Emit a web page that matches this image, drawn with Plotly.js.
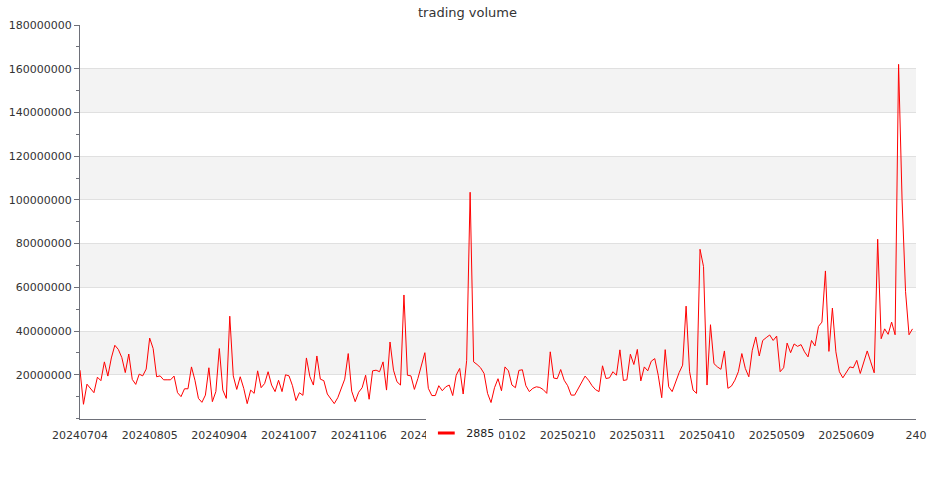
<!DOCTYPE html>
<html>
<head>
<meta charset="utf-8">
<script src="https://cdn.plot.ly/plotly-3.0.1.min.js"></script>
<style>
html,body{margin:0;padding:0;background:#fff;}
#chart{width:935px;height:500px;}
</style>
</head>
<body>
<div id="chart"></div>
<script>
// Trading volume of 2885, one value per trading day
const volumes = [
22.1e6, 6.5e6, 15.7e6, 13.5e6, 11.8e6, 18.9e6, 17.3e6, 25.9e6, 19.4e6, 27.7e6,
33.5e6, 31.6e6, 27.9e6, 21.0e6, 29.5e6, 17.9e6, 15.6e6, 20.3e6, 19.5e6, 22.6e6,
36.8e6, 32.0e6, 19.1e6, 19.5e6, 17.7e6, 17.7e6, 17.7e6, 19.4e6, 11.8e6, 10.0e6,
13.6e6, 13.6e6, 23.6e6, 17.5e6, 9.2e6, 7.4e6, 10.7e6, 23.2e6, 7.7e6, 12.3e6,
32.0e6, 13.0e6, 9.2e6, 46.8e6, 19.5e6, 13.3e6, 19.1e6, 13.8e6, 6.8e6, 13.0e6,
11.5e6, 21.8e6, 14.1e6, 16.0e6, 21.4e6, 15.3e6, 12.3e6, 17.5e6, 12.3e6, 20.0e6,
19.5e6, 15.0e6, 8.2e6, 11.8e6, 10.6e6, 27.7e6, 19.1e6, 15.3e6, 28.6e6, 18.0e6,
17.3e6, 11.2e6, 8.9e6, 6.8e6, 9.5e6, 13.5e6, 18.0e6, 29.7e6, 12.5e6, 7.7e6,
12.0e6, 14.1e6, 19.8e6, 8.8e6, 21.8e6, 22.1e6, 21.4e6, 25.9e6, 13.0e6, 35.0e6,
22.1e6, 16.8e6, 15.3e6, 56.5e6, 19.8e6, 19.5e6, 13.3e6, 18.3e6, 24.4e6, 30.1e6,
13.8e6, 10.5e6, 10.5e6, 15.0e6, 12.7e6, 14.5e6, 15.3e6, 10.5e6, 19.8e6, 22.9e6,
11.2e6, 26.5e6, 103.5e6, 25.9e6, 24.7e6, 23.2e6, 20.6e6, 11.5e6, 7.3e6, 14.1e6,
18.2e6, 12.7e6, 23.6e6, 21.8e6, 15.3e6, 14.1e6, 22.0e6, 22.3e6, 15.0e6, 12.3e6,
13.8e6, 14.5e6, 14.2e6, 13.2e6, 11.5e6, 30.5e6, 18.5e6, 18.2e6, 22.4e6, 17.5e6,
15.0e6, 10.7e6, 10.7e6, 13.5e6, 16.5e6, 19.4e6, 17.5e6, 15.0e6, 13.2e6, 12.3e6,
24.1e6, 18.3e6, 18.6e6, 21.4e6, 19.8e6, 31.4e6, 17.4e6, 17.7e6, 29.4e6, 24.7e6,
31.6e6, 17.2e6, 23.6e6, 21.8e6, 26.2e6, 27.4e6, 19.8e6, 9.5e6, 31.5e6, 14.5e6,
12.3e6, 16.8e6, 21.0e6, 24.4e6, 51.4e6, 21.4e6, 13.0e6, 11.5e6, 77.4e6, 69.5e6,
15.3e6, 42.9e6, 25.1e6, 23.6e6, 22.5e6, 30.9e6, 13.8e6, 14.8e6, 17.5e6, 21.4e6,
29.7e6, 22.9e6, 19.1e6, 31.2e6, 37.3e6, 28.6e6, 35.7e6, 37.0e6, 38.2e6, 35.7e6,
37.7e6, 21.4e6, 23.2e6, 34.5e6, 30.1e6, 34.1e6, 33.0e6, 33.8e6, 30.5e6, 28.2e6,
35.7e6, 33.2e6, 42.1e6, 44.1e6, 67.5e6, 30.7e6, 50.5e6, 30.5e6, 21.4e6, 18.6e6,
21.0e6, 23.6e6, 23.2e6, 26.6e6, 20.6e6, 25.9e6, 30.9e6, 25.9e6, 20.9e6, 82.0e6,
36.5e6, 41.0e6, 38.5e6, 44.1e6, 38.3e6, 162.0e6, 100.0e6, 58.0e6, 38.3e6, 41.0e6
];

// category axis: one slot per trading day, labelled every 20 days
const categoryCount = 241;
const labelIndex = [0, 20, 40, 60, 80, 100, 120, 140, 160, 180, 200, 220, 240];
const tickLabels = ['20240704','20240805','20240904','20241007','20241106','20241204',
                    '20250102','20250210','20250311','20250410','20250509','20250609','240'];

// value axis labels (no label at zero)
const yTickVals = [20000000, 40000000, 60000000, 80000000, 100000000,
                   120000000, 140000000, 160000000, 180000000];
const yTickText = ['20000000','40000000','60000000','80000000','100000000',
                   '120000000','140000000','160000000','180000000'];

const seriesName = '2885';
const yMax = 180000000;
const yStep = 20000000;

const xIdx = volumes.map((_, i) => i);

const FONT = 'DejaVu Sans, sans-serif';
const TXT = '#333';

// alternating background bands between gridlines
const shapes = [];
for (let k = 1; k * yStep < yMax; k += 2) {
  shapes.push({
    type: 'rect', xref: 'paper', yref: 'y',
    x0: 0, x1: 1, y0: k * yStep, y1: (k + 1) * yStep,
    fillcolor: '#f3f3f3', line: {width: 0}, layer: 'below'
  });
}

const traces = [
  {
    type: 'scatter', mode: 'lines',
    x: xIdx, y: volumes,
    name: seriesName, showlegend: false,
    line: {color: '#ff0000', width: 1},
    hoverinfo: 'x+y'
  },
  {
    type: 'scatter', mode: 'markers',
    x: [null], y: [null],
    name: seriesName, showlegend: true,
    marker: {symbol: 'line-ew', size: 12, color: '#ff0000', line: {color: '#ff0000', width: 3}}
  }
];

const layout = {
  width: 935, height: 500,
  margin: {l: 80, r: 19, t: 25, b: 80, pad: 0},
  paper_bgcolor: '#ffffff',
  plot_bgcolor: '#ffffff',
  font: {family: FONT, size: 11, color: TXT},
  title: {
    text: 'trading volume',
    font: {family: FONT, size: 13, color: TXT},
    xref: 'container', x: 0.5, xanchor: 'center',
    yref: 'container', y: 1 - 12 / 500, yanchor: 'middle'
  },
  xaxis: {
    range: [0, categoryCount - 1],
    tickmode: 'array', tickvals: labelIndex, ticktext: tickLabels,
    ticks: '', showgrid: false, zeroline: false,
    ticklabelstandoff: 6,
    showline: true, linecolor: '#6e7079', linewidth: 1,
    tickfont: {family: FONT, size: 11, color: TXT},
    fixedrange: true
  },
  yaxis: {
    range: [0, yMax],
    tickmode: 'array', tickvals: yTickVals, ticktext: yTickText,
    ticks: 'outside', ticklen: 5, tickcolor: '#6e7079', tickwidth: 1,
    minor: {tickmode: 'linear', tick0: 0, dtick: yStep / 2, ticks: 'outside', ticklen: 3, tickcolor: '#6e7079', showgrid: false},
    showgrid: true, gridcolor: '#e0e0e0', gridwidth: 1,
    zeroline: false,
    showline: true, linecolor: '#6e7079', linewidth: 1,
    tickfont: {family: FONT, size: 11, color: TXT},
    fixedrange: true
  },
  showlegend: true,
  legend: {
    orientation: 'h',
    xref: 'container', x: 0.495, xanchor: 'center',
    yref: 'container', y: 1 - 433 / 500, yanchor: 'middle',
    bgcolor: '#ffffff', borderwidth: 0,
    font: {family: FONT, size: 11, color: '#222'},
    itemwidth: 30,
    entrywidth: 28
  },
  shapes: shapes
};

Plotly.newPlot('chart', traces, layout, {displayModeBar: false, staticPlot: true});
</script>
</body>
</html>
